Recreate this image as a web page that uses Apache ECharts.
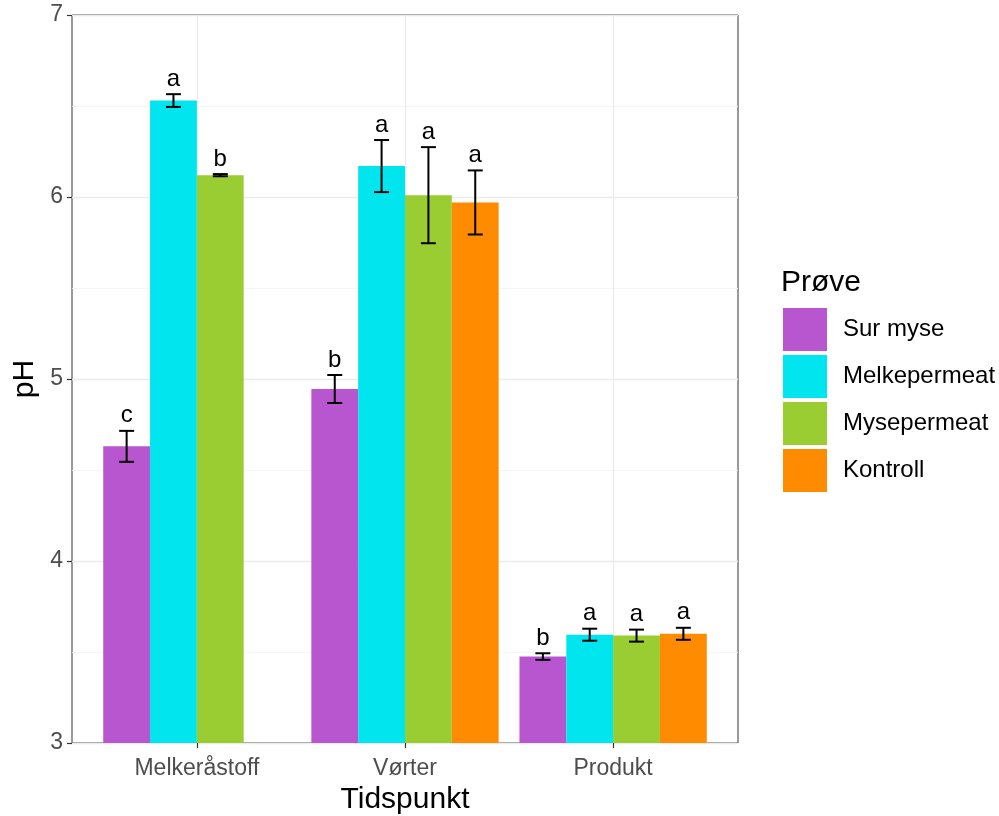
<!DOCTYPE html>
<html>
<head>
<meta charset="utf-8">
<script src="https://cdn.jsdelivr.net/npm/echarts@6/dist/echarts.min.js"></script>
<style>
  html, body { margin: 0; padding: 0; background: #fff; }
  #chart { width: 999px; height: 816px; }
</style>
</head>
<body>
<div id="chart"></div>
<script>
// pH per tidspunkt og prøve (middelverdi, standardavvik, signifikansbokstav)
const categories = ['Melkeråstoff', 'Vørter', 'Produkt'];
const sampleNames = ['Sur myse', 'Melkepermeat', 'Mysepermeat', 'Kontroll'];
const sampleColors = ['#B856D0', '#00E5EE', '#9ACD32', '#FF8C00'];

const surMyse = [4.63, 4.945, 3.475];
const surMyseSd = [0.085, 0.077, 0.018];
const surMyseLetters = ['c', 'b', 'b'];

const melkepermeat = [6.53, 6.17, 3.595];
const melkepermeatSd = [0.035, 0.143, 0.033];
const melkepermeatLetters = ['a', 'a', 'a'];

const mysepermeat = [6.12, 6.01, 3.59];
const mysepermeatSd = [0.006, 0.264, 0.033];
const mysepermeatLetters = ['b', 'a', 'a'];

const kontroll = [null, 5.97, 3.60];
const kontrollSd = [null, 0.176, 0.033];
const kontrollLetters = [null, 'a', 'a'];

const yTicks = [3, 4, 5, 6, 7];

const seriesValues = [surMyse, melkepermeat, mysepermeat, kontroll];
const seriesSd = [surMyseSd, melkepermeatSd, mysepermeatSd, kontrollSd];
const seriesLetters = [surMyseLetters, melkepermeatLetters, mysepermeatLetters, kontrollLetters];

const FONT = '"Liberation Sans", Arial, sans-serif';
const dodgeWidth = 0.9;       // total width of a group in category units
const nSlots = sampleNames.length;
const slotWidth = dodgeWidth / nSlots;

function makeSeries(k) {
  const data = [];
  categories.forEach((c, i) => {
    const v = seriesValues[k][i];
    if (v == null) return;
    data.push([i + 1, v, seriesSd[k][i], seriesLetters[k][i]]);
  });
  return {
    name: sampleNames[k],
    type: 'custom',
    itemStyle: { color: sampleColors[k] },
    data: data,
    encode: { x: 0, y: 1 },
    renderItem: function (params, api) {
      const xc = api.value(0) - dodgeWidth / 2 + slotWidth * (k + 0.5);
      const mean = api.value(1);
      const sd = api.value(2);
      const letter = data[params.dataIndex][3];
      const left = api.coord([xc - slotWidth / 2, mean]);
      const right = api.coord([xc + slotWidth / 2, 3]);
      const top = api.coord([xc, mean + sd]);
      const bot = api.coord([xc, mean - sd]);
      const barW = right[0] - left[0];
      const capHalf = barW * 0.16;
      const cx = (left[0] + right[0]) / 2;
      const lineStyle = { stroke: '#000', lineWidth: 2 };
      return {
        type: 'group',
        children: [
          {
            type: 'rect',
            shape: { x: left[0], y: left[1], width: barW, height: right[1] - left[1] },
            style: { fill: sampleColors[k] }
          },
          { type: 'line', shape: { x1: cx, y1: top[1], x2: cx, y2: bot[1] }, style: lineStyle },
          { type: 'line', shape: { x1: cx - capHalf, y1: top[1], x2: cx + capHalf, y2: top[1] }, style: lineStyle },
          { type: 'line', shape: { x1: cx - capHalf, y1: bot[1], x2: cx + capHalf, y2: bot[1] }, style: lineStyle },
          {
            type: 'text',
            x: cx, y: top[1] - 3,
            style: {
              text: letter, fill: '#000', font: '24px ' + FONT,
              align: 'center', verticalAlign: 'bottom'
            }
          }
        ]
      };
    }
  };
}

const chart = echarts.init(document.getElementById('chart'), null, { renderer: 'canvas' });
chart.setOption({
  animation: false,
  backgroundColor: '#fff',
  textStyle: { fontFamily: FONT },
  grid: {
    left: 72, right: 261, top: 15, bottom: 73,
    outerBoundsMode: 'none', containLabel: false,
    show: true, borderColor: '#333', borderWidth: 1, backgroundColor: 'transparent'
  },
  xAxis: {
    type: 'value', min: 0.4, max: 3.6,
    name: 'Tidspunkt', nameLocation: 'middle', nameGap: 42,
    nameTextStyle: { fontSize: 30, color: '#000' },
    axisLine: { show: false },
    axisTick: { show: true, customValues: [1, 2, 3], length: 5, lineStyle: { color: '#333', width: 1.2 } },
    axisLabel: {
      customValues: [1, 2, 3], fontSize: 23, color: '#4d4d4d', margin: 14,
      formatter: v => categories[Math.round(v) - 1] || ''
    },
    splitLine: { show: true, lineStyle: { color: '#EBEBEB', width: 1.4 } }
  },
  yAxis: {
    type: 'value', min: 3, max: 7, interval: 1,
    name: 'pH', nameLocation: 'middle', nameGap: 28, nameRotate: 90,
    nameTextStyle: { fontSize: 30, color: '#000' },
    axisLine: { show: false },
    axisTick: { show: true, length: 5, lineStyle: { color: '#333', width: 1.2 } },
    axisLabel: { fontSize: 23, color: '#4d4d4d', margin: 9, formatter: v => yTicks.includes(v) ? String(v) : '' },
    splitLine: { show: true, lineStyle: { color: '#EBEBEB', width: 1.4 } },
    minorTick: { show: false, splitNumber: 2 },
    minorSplitLine: { show: true, lineStyle: { color: '#F2F2F2', width: 0.8 } }
  },
  legend: {
    orient: 'vertical', left: 783, top: 308, padding: 0,
    itemWidth: 44, itemHeight: 43, itemGap: 4,
    icon: 'rect',
    textStyle: { fontSize: 24, color: '#000', padding: [0, 0, 0, 11] },
    data: sampleNames,
    selectedMode: false
  },
  graphic: [{
    type: 'text', left: 781, top: 268,
    style: { text: 'Prøve', font: '30px ' + FONT, fill: '#000' }
  }],
  series: sampleNames.map((_, k) => makeSeries(k))
});
</script>
</body>
</html>
